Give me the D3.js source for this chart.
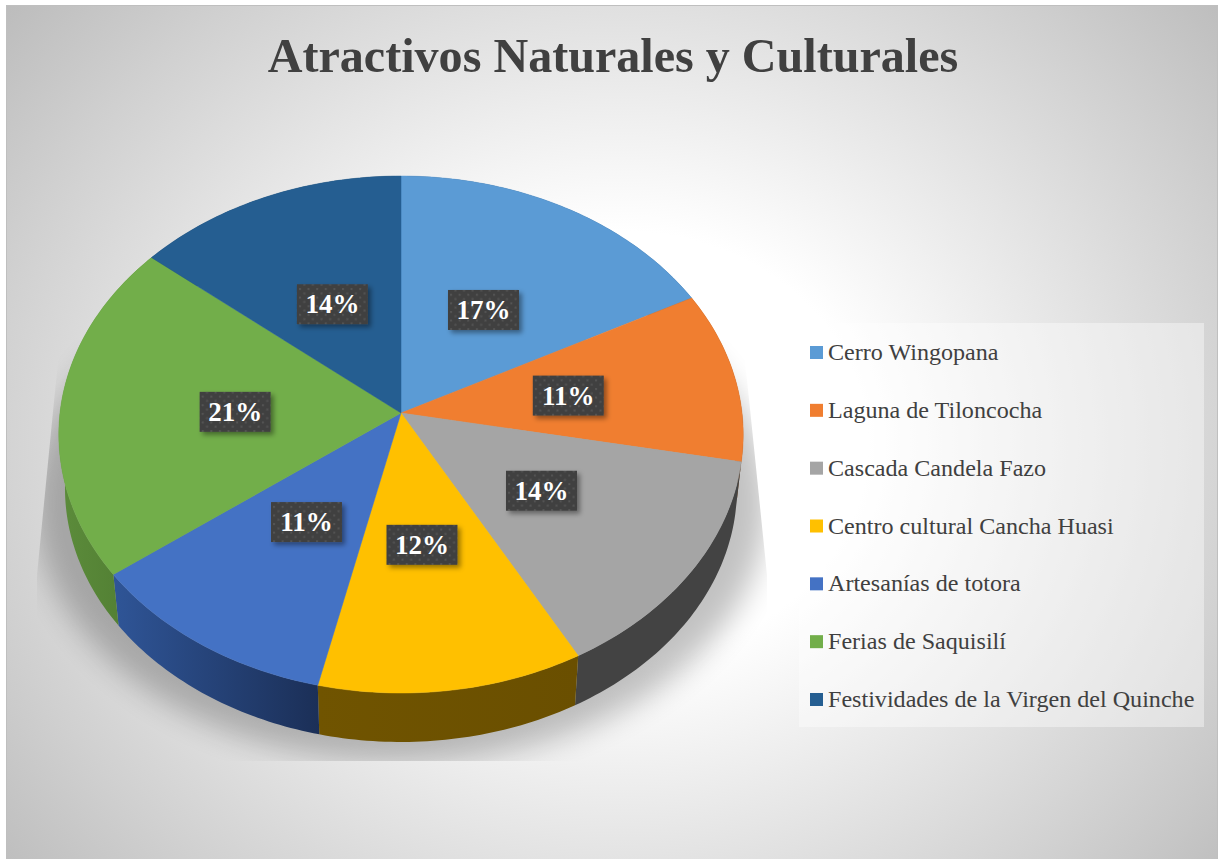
<!DOCTYPE html>
<html lang="es">
<head>
<meta charset="utf-8">
<script src="https://cdnjs.cloudflare.com/ajax/libs/d3/7.8.5/d3.min.js"></script>
<style>
    html, body { margin: 0; padding: 0; background: #fff; }
    svg { display: block; font-family: "Liberation Serif", serif; }
    .title { font-size: 48.1px; font-weight: bold; fill: #404040; text-anchor: middle; }
    .legend-text { font-size: 24.1px; fill: #404040; }
    .pct { font-size: 27px; font-weight: bold; fill: #fff; text-anchor: middle; }
</style>
</head>
<body>
<svg width="1218" height="859"></svg>
<script>
// Chart values
var chartTitle = 'Atractivos Naturales y Culturales';
var categories = ['Cerro Wingopana', 'Laguna de Tiloncocha', 'Cascada Candela Fazo',
    'Centro cultural Cancha Huasi', 'Artesanías de totora', 'Ferias de Saquisilí',
    'Festividades de la Virgen del Quinche'];
var shares = [17.3, 10.7, 14, 11.6, 11.2, 21.2, 14];

var topColors = ['#5b9bd5', '#f07e30', '#a5a5a5', '#ffc000', '#4472c4', '#72ae4a', '#255e91'];
var sideLeft = ['#30597e', '#7f4a1f', '#434343', '#705400', '#2f5597', '#5c8c3b', '#163a5a'];
var sideRight = ['#30597e', '#7f4a1f', '#434343', '#6a4f00', '#1b2f57', '#4e7a30', '#163a5a'];

var svg = d3.select('svg');
var defs = svg.append('defs');

// Layout of the tilted disc: perspective constant k makes the near edge bigger
var disc = { cx: 401, cy: 413, a: 341, b: 256.7, k: -0.0832 };
var rim = { dy: 467, scale: 0.982 };

function topPoint(angle, f) {
    var u = Math.sin(angle) * f, v = -Math.cos(angle) * f;
    var w = 1 + disc.k * v;
    return [disc.cx + disc.a * u / w, disc.cy + disc.b * v / w];
}
function rimPoint(angle) {
    var p = topPoint(angle, 1);
    return [disc.cx + rim.scale * (p[0] - disc.cx), rim.dy + rim.scale * (p[1] - disc.cy)];
}
function sampleAngles(d) {
    var n = Math.ceil((d.endAngle - d.startAngle) * 60);
    return d3.range(n + 1).map(function (i) {
        return d.startAngle + (d.endAngle - d.startAngle) * i / n;
    });
}

var line = d3.line();
var slices = d3.pie().sort(null).value(function (d) { return d; })(shares);

// background
var bg = defs.append('radialGradient')
    .attr('id', 'bg')
    .attr('gradientUnits', 'userSpaceOnUse')
    .attr('cx', 0).attr('cy', 0).attr('r', 1)
    .attr('gradientTransform', 'translate(620,445) scale(800,690)');
bg.append('stop').attr('offset', 0.31).attr('stop-color', '#fff');
bg.append('stop').attr('offset', 0.8).attr('stop-color', '#d0d0d0');
bg.append('stop').attr('offset', 1).attr('stop-color', '#bcbcbc');

svg.append('rect').attr('x', 6).attr('y', 5).attr('width', 1212).attr('height', 854)
    .attr('fill', 'url(#bg)');
svg.append('path').attr('d', 'M6.5,859V5.5H1217.5V859').attr('fill', 'none')
    .attr('stroke', '#bfbfbf');

svg.append('text').attr('class', 'title').attr('x', 613).attr('y', 72).text(chartTitle);

// shadow under the pie, cut off hard like the original
defs.append('filter').attr('id', 'blur')
    .attr('x', '-20%').attr('y', '-20%').attr('width', '140%').attr('height', '140%')
    .append('feGaussianBlur').attr('stdDeviation', 15);
defs.append('clipPath').attr('id', 'shadowClip')
    .append('polygon')
    .attr('points', '60,340 37,575 37,761 767,761 767,575 743,340');
svg.append('g').attr('clip-path', 'url(#shadowClip)')
    .append('ellipse')
    .attr('cx', 401).attr('cy', 503).attr('rx', 366).attr('ry', 259)
    .attr('fill', '#000').attr('opacity', 0.24)
    .attr('filter', 'url(#blur)');

// side wall first, the tops cover whatever is at the back
slices.forEach(function (d, i) {
    var grad = defs.append('linearGradient').attr('id', 'side' + i)
        .attr('x1', 0).attr('x2', 1).attr('y1', 0).attr('y2', 0);
    grad.append('stop').attr('offset', 0).attr('stop-color', sideLeft[i]);
    grad.append('stop').attr('offset', 1).attr('stop-color', sideRight[i]);
});
svg.append('g').selectAll('path')
    .data(slices)
    .join('path')
    .attr('d', function (d) {
        var angles = sampleAngles(d);
        return line(angles.map(function (a) { return topPoint(a, 1); })
            .concat(angles.slice().reverse().map(rimPoint))) + 'Z';
    })
    .attr('fill', function (d, i) { return 'url(#side' + i + ')'; });

// top of the pie
svg.append('g').selectAll('path')
    .data(slices)
    .join('path')
    .attr('d', function (d) {
        var pts = sampleAngles(d).map(function (a) { return topPoint(a, 1); });
        return line([[disc.cx, disc.cy]].concat(pts)) + 'Z';
    })
    .attr('fill', function (d, i) { return topColors[i]; })
    .attr('stroke', function (d, i) { return topColors[i]; })
    .attr('stroke-width', 0.5);

// data labels
var dots = defs.append('pattern').attr('id', 'dots')
    .attr('patternUnits', 'userSpaceOnUse')
    .attr('x', 0).attr('y', 0)
    .attr('width', 8.6).attr('height', 8.6);
dots.append('rect').attr('width', 8.6).attr('height', 8.6).attr('fill', '#404040');
dots.append('rect').attr('x', 1).attr('y', 1).attr('width', 2).attr('height', 2).attr('fill', '#545454');
dots.append('rect').attr('x', 5.3).attr('y', 5.3).attr('width', 2).attr('height', 2).attr('fill', '#545454');

var boxShadow = defs.append('filter').attr('id', 'boxShadow')
    .attr('x', '-20%').attr('y', '-30%').attr('width', '140%').attr('height', '170%');
boxShadow.append('feDropShadow')
    .attr('dx', 3).attr('dy', 3).attr('stdDeviation', 2.5)
    .attr('flood-color', '#000').attr('flood-opacity', 0.4);

// Excel does not sit the labels exactly in the middle of the slice
var labelNudge = [[-1, 1], [3, 1], [2, 2], [-3, 2], [0, 0], [1, 2], [0, 1]];
var boxW = 71, boxH = 40;

var labels = svg.append('g').selectAll('g')
    .data(slices)
    .join('g')
    .attr('transform', function (d, i) {
        var p = topPoint((d.startAngle + d.endAngle) / 2, 0.49);
        return 'translate(' + (p[0] + labelNudge[i][0]) + ',' + (p[1] + labelNudge[i][1]) + ')';
    });
labels.append('rect')
    .attr('x', -boxW / 2).attr('y', -boxH / 2)
    .attr('width', boxW).attr('height', boxH)
    .attr('fill', 'url(#dots)')
    .attr('filter', 'url(#boxShadow)');
labels.append('text')
    .attr('class', 'pct')
    .attr('y', 9)
    .text(function (d) { return Math.round(d.value) + '%'; });

// legend
svg.append('rect').attr('x', 799).attr('y', 323).attr('width', 405).attr('height', 404)
    .attr('fill', '#fff').attr('fill-opacity', 0.4);

var legendY = d3.scalePoint().domain(categories).range([352.5, 699.5]);
var legend = svg.append('g').selectAll('g')
    .data(categories)
    .join('g')
    .attr('transform', function (d) { return 'translate(810,' + legendY(d) + ')'; });
legend.append('rect')
    .attr('x', 0).attr('y', -6.5).attr('width', 13).attr('height', 13)
    .attr('fill', function (d, i) { return topColors[i]; });
legend.append('text')
    .attr('class', 'legend-text')
    .attr('x', 18).attr('y', 7.5)
    .text(function (d) { return d; });
</script>
</body>
</html>
